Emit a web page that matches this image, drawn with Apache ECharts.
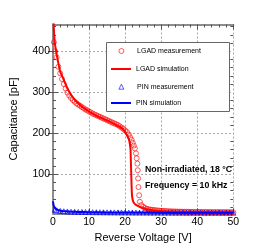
<!DOCTYPE html>
<html>
<head>
<meta charset="utf-8">
<script src="https://cdn.jsdelivr.net/npm/echarts@6/dist/echarts.min.js"></script>
<style>html,body{margin:0;padding:0;background:#fff;}#c{width:260px;height:249px;}</style>
</head>
<body>
<div id="c"></div>
<script>
// LGAD measurement (open circles)
var lgadMeasV = [0.25,0.6,1,1.5,2,2.5,3,3.5,4,4.5,5,5.5,6,6.5,7,7.5,8,8.5,9,9.5,10,10.5,11,11.5,12,12.5,13,13.5,14,14.5,15,15.5,16,16.5,17,17.5,18,18.5,19,19.5,20,20.5,21,21.4,21.8,22.1,22.4,22.7,23.0,23.2,23.4,23.5,23.6,23.7,23.9,24.1,24.5,25,25.5,26,26.5,27,27.5,28,28.5,29,29.5,30,30.5,31,31.5,32,32.5,33,33.5,34,34.5,35,35.5,36,36.5,37,37.5,38,38.5,39,39.5,40,40.5,41,41.5,42,42.5,43,43.5,44,44.5,45,45.5,46,46.5,47,47.5,48,48.5,49,49.5,50];
var lgadMeasC = [422,400,385,362,346,332,320,309,299,292,286,281,277,273,270,267,264,261,258,256,253,251,248,246,244,242,240,238,236,234,232,230,228,226,224,222,220,217,214,211,207,203,197,190,184,177,170,163,151,139,126,110,90,69,49,33,25,21,18,16,15,14,13.5,13,12.5,12,11.5,11,10.8,10.5,10.3,10,9.8,9.6,9.5,9.3,9.2,9,9,8.9,8.8,8.7,8.6,8.5,8.5,8.4,8.4,8.3,8.3,8.2,8.2,8.1,8.1,8,8,8,7.9,7.9,7.8,7.8,7.8,7.7,7.7,7.7,7.6,7.6,7.6,7.5];
// LGAD simulation (line)
var lgadSimV = [0.15,0.3,0.5,0.9,1.2,1.6,2,2.5,3,3.5,4,5,6,7,8,10,12,14,16,18,19,19.6,20.3,21,21.3,21.5,21.6,21.7,21.8,21.9,22.1,22.4,22.8,23.5,24.5,26,28,30,35,40,45,50];
var lgadSimC = [470,445,420,398,383,366,350,340,330,319,309,294,282,273,265,253,243,235,227,218,213,208,199,186,175,160,130,100,70,50,38,31,27,23,19,15,12,10,8.8,8.2,7.8,7.6];
// PIN measurement (open triangles)
var pinMeasV = [0.5,1,2,3,4,5,6,7,8,9,10,11,12,13,14,15,16,17,18,19,20,21,22,23,24,25,26,27,28,29,30,31,32,33,34,35,36,37,38,39,40,41,42,43,44,45,46,47,48,49,50];
var pinMeasC = [14,12.5,11,10,9.5,9,8.8,8.5,8.3,8.1,8,7.8,7.7,7.6,7.5,7.4,7.3,7.2,7.2,7.1,7,7,6.9,6.9,6.8,6.8,6.8,6.7,6.7,6.7,6.6,6.6,6.6,6.5,6.5,6.5,6.5,6.4,6.4,6.4,6.4,6.3,6.3,6.3,6.3,6.3,6.3,6.3,6.3,6.3,6.3];
// PIN simulation (line)
var pinSimV = [0,0.1,0.2,0.4,0.6,0.9,1.3,1.8,2.5,3.5,5,7,10,15,20,30,40,50];
var pinSimC = [34,28,24,20,17,15,13.3,12,10.8,9.8,9,8.3,7.7,7.2,6.9,6.6,6.4,6.2];

var yMajor = [100,200,300,400];
var yMinor = [20,40,60,80,120,140,160,180,220,240,260,280,320,340,360,380,420,440,460];

function zip(a,b){ return a.map(function(v,i){ return [v,b[i]]; }); }

var FONT = "'Liberation Sans', Arial, sans-serif";
var FRAME = '#8c8c8c';
var TICK = '#555';
var RED = '#ff0000', BLUE = '#0000ff';

var chart = echarts.init(document.getElementById('c'), null, {renderer:'canvas'});
function yAx(pos, vals, len, main){
  return {
    type:'value', position:pos, min:5, max:465,
    axisLine:{show:main, lineStyle:{color:FRAME, width:2}},
    axisTick:{show:true, inside:true, length:len, customValues:vals, lineStyle:{color:TICK, width:1}},
    axisLabel:{show:main && pos==='left', customValues:yMajor, margin:3, color:'#000', fontSize:10.5, fontFamily:FONT},
    splitLine:{show:main && pos==='left', lineStyle:{color:'#a8a8a8', type:[2,2], width:1}},
    name: (main && pos==='left') ? 'Capacitance [pF]' : '',
    nameLocation:'middle', nameGap:34,
    nameTextStyle:{fontSize:11, fontFamily:FONT, color:'#000'}
  };
}
function xAx(pos, main){
  return {
    type:'value', position:pos, min:0, max:50, interval:10,
    axisLine:{show:true, lineStyle:{color:FRAME, width:2}},
    axisTick:{show:true, inside:true, length:5, lineStyle:{color:TICK, width:1}},
    minorTick:{show:true, splitNumber:5, length:3, lineStyle:{color:TICK, width:1}},
    axisLabel:{show:main, margin:3, color:'#000', fontSize:10.5, fontFamily:FONT},
    splitLine:{show:main, lineStyle:{color:'#a8a8a8', type:[2,2], width:1}},
    name: main ? 'Reverse Voltage [V]' : '',
    nameLocation:'middle', nameGap:17,
    nameTextStyle:{fontSize:11, fontFamily:FONT, color:'#000'}
  };
}
var legendText = {fontSize:7, fontFamily:FONT, color:'#000', lineHeight:8};

chart.setOption({
  animation:false,
  backgroundColor:'#fff',
  grid:{left:47, right:26.7, top:24.5, bottom:35.7, containLabel:false},
  xAxis:[xAx('bottom', true), xAx('top', false)],
  yAxis:[yAx('left', yMajor, 5, true), yAx('right', yMajor, 5, true), yAx('left', yMinor, 3, false), yAx('right', yMinor, 3, false)],
  legend:[{
    orient:'vertical', left:118.5, top:47, padding:0,
    itemWidth:5, itemHeight:5, itemGap:27.7,
    textStyle:Object.assign({padding:[0,0,0,8.2]}, legendText),
    data:[
      {name:'LGAD measurement', icon:'circle', itemStyle:{color:'rgba(0,0,0,0)', borderColor:RED, borderWidth:0.8}},
      {name:'PIN measurement', icon:'triangle', itemStyle:{color:'rgba(0,0,0,0)', borderColor:BLUE, borderWidth:0.8}}
    ],
    z:10
  },{
    orient:'vertical', left:111, top:65, padding:0,
    itemWidth:20, itemHeight:2, itemGap:26,
    textStyle:legendText,
    data:[
      {name:'LGAD simulation', icon:'rect', itemStyle:{color:RED}},
      {name:'PIN simulation', icon:'rect', itemStyle:{color:BLUE}}
    ],
    z:10
  }],
  graphic:[
    {type:'rect', left:106, top:42, z:5, shape:{width:123, height:69}, style:{fill:'#fff', stroke:'#666', lineWidth:1}},
    {type:'text', left:145, top:165, z:5, style:{text:'Non-irradiated, 18 \u00B0C', font:'bold 8.8px '+FONT, fill:'#000'}},
    {type:'text', left:145, top:181, z:5, style:{text:'Frequency = 10 kHz', font:'bold 8.8px '+FONT, fill:'#000'}}
  ],
  series:[
    {name:'LGAD measurement', type:'scatter', data:zip(lgadMeasV, lgadMeasC), symbol:'circle', symbolSize:5,
      itemStyle:{color:'rgba(0,0,0,0)', borderColor:RED, borderWidth:0.8}},
    {name:'LGAD simulation', type:'line', data:zip(lgadSimV, lgadSimC), symbol:'none', smooth:0.3, clip:true,
      lineStyle:{color:RED, width:2}, itemStyle:{color:RED}},
    {name:'PIN measurement', type:'scatter', data:zip(pinMeasV, pinMeasC), symbol:'triangle', symbolSize:5,
      itemStyle:{color:'rgba(0,0,0,0)', borderColor:BLUE, borderWidth:0.8}},
    {name:'PIN simulation', type:'line', data:zip(pinSimV, pinSimC), symbol:'none', smooth:0.3, clip:true,
      lineStyle:{color:BLUE, width:2}, itemStyle:{color:BLUE}}
  ]
});
</script>
</body>
</html>
